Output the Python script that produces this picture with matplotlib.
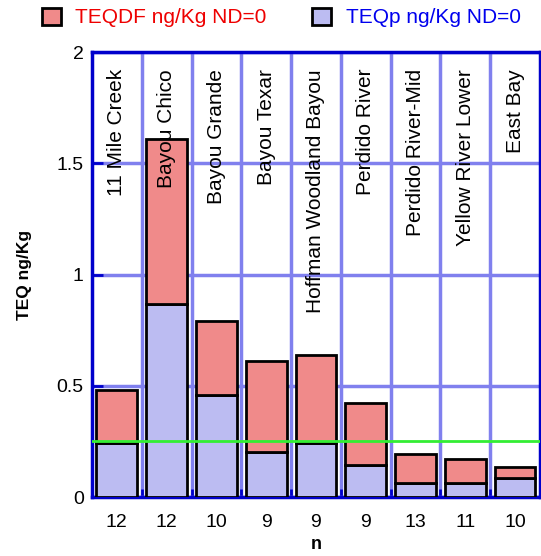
import matplotlib.pyplot as plt
from matplotlib.patches import Patch

sites = ["11 Mile Creek", "Bayou Chico", "Bayou Grande", "Bayou Texar",
         "Hoffman Woodland Bayou", "Perdido River", "Perdido River-Mid",
         "Yellow River Lower", "East Bay"]
n_labels = ["12", "12", "10", "9", "9", "9", "13", "11", "10"]
teq_total = [0.481, 1.61, 0.792, 0.614, 0.637, 0.421, 0.195, 0.171, 0.133]
teq_p = [0.241, 0.866, 0.457, 0.204, 0.241, 0.145, 0.062, 0.062, 0.084]
threshold = 0.25

plt.rcParams['font.family'] = ['Liberation Sans', 'DejaVu Sans']

red_fill = '#f08a8a'
blue_fill = '#bcbcf2'
grid_col = '#8080ee'
spine_col = '#0000cc'

fig = plt.figure(figsize=(5.41, 5.56), dpi=100)
ax = fig.add_axes([0.170, 0.106, 0.828, 0.800])

x = list(range(len(sites)))
teq_df = [t - p for t, p in zip(teq_total, teq_p)]

ax.bar(x, teq_p, width=0.82, color=blue_fill, edgecolor='black', linewidth=2, zorder=3)
ax.bar(x, teq_df, bottom=teq_p, width=0.82, color=red_fill, edgecolor='black', linewidth=2, zorder=3)
ax.axhline(threshold, color='#33ee33', linewidth=2, zorder=4)

for i, name in enumerate(sites):
    ax.text(i, 1.925, name, rotation=90, ha='center', va='top', fontsize=15, zorder=5)

ax.set_xlim(-0.5, len(sites) - 0.5)
ax.set_ylim(0, 2)
ax.set_xticks(x)
ax.set_xticklabels(n_labels, fontsize=14)
ax.set_xticks([i + 0.5 for i in x[:-1]], minor=True)
ax.set_yticks([0, 0.5, 1, 1.5, 2])
ax.set_yticklabels(["0", "0.5", "1", "1.5", "2"], fontsize=14)
ax.tick_params(axis='x', which='major', length=0, pad=12)
ax.tick_params(axis='x', which='minor', direction='in', length=6, color=spine_col, width=2)
ax.tick_params(axis='y', direction='in', length=8, color=spine_col, width=2, pad=6)

ax.grid(True, axis='x', which='minor', color=grid_col, linewidth=2.5, zorder=1)
ax.grid(True, axis='y', which='major', color=grid_col, linewidth=2.5, zorder=1)
ax.set_axisbelow(True)
for s in ax.spines.values():
    s.set_color(spine_col)
    s.set_linewidth(2.5)

ax.set_ylabel("TEQ ng/Kg", fontsize=12.5, fontweight='bold', labelpad=18)
ax.set_xlabel("n", fontsize=13, fontweight='bold', labelpad=4)

handles = [Patch(facecolor=red_fill, edgecolor='black', linewidth=2),
           Patch(facecolor=blue_fill, edgecolor='black', linewidth=2)]
fig.legend(handles, ["TEQDF ng/Kg ND=0", "TEQp ng/Kg ND=0"], loc='upper center',
           bbox_to_anchor=(0.52, 1.02), ncol=2, frameon=False, fontsize=15,
           handlelength=0.9, handleheight=0.9, columnspacing=2.2, handletextpad=0.7,
           labelcolor=['#ee0000', '#0000ee'])

fig.savefig("out.png", dpi=100)
